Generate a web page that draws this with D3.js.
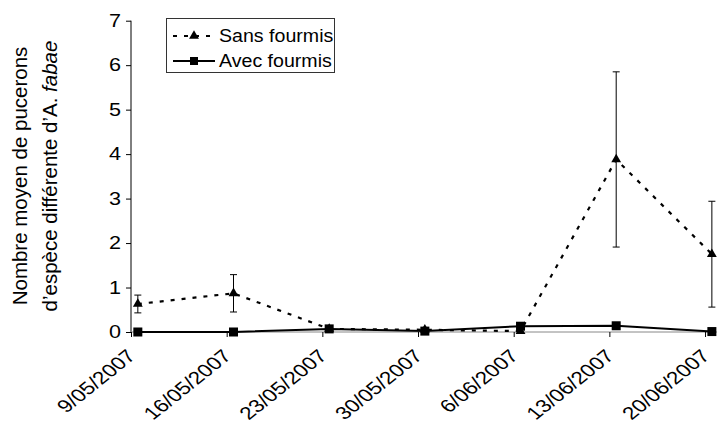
<!DOCTYPE html>
<html>
<head>
<meta charset="utf-8">
<script src="https://cdn.jsdelivr.net/npm/d3@7"></script>
<style>
  body { margin: 0; background: #fff; }
  text { font-family: "Liberation Sans", Arial, sans-serif; fill: #000; }
</style>
</head>
<body>
<svg id="chart" width="717" height="425"></svg>
<script>
// sampling dates (weekly)
var dates = ["2007-05-09", "2007-05-16", "2007-05-23", "2007-05-30", "2007-06-06", "2007-06-13", "2007-06-20"];
// Sans fourmis: mean and error
var sansMean = [0.63, 0.87, 0.07, 0.05, 0.02, 3.88, 1.75];
var sansErr  = [0.20, 0.42, 0.00, 0.00, 0.00, 1.97, 1.19];
// Avec fourmis: mean and error
var avecMean = [0.00, 0.00, 0.07, 0.02, 0.13, 0.14, 0.01];
var avecErr  = [0.00, 0.00, 0.00, 0.00, 0.00, 0.00, 0.00];
var yTicks = [0, 1, 2, 3, 4, 5, 6, 7];

var svg = d3.select('#chart');
var parse = d3.utcParse('%Y-%m-%d');
var day = 24 * 3600 * 1000;
// the original picture is a bit stretched sideways
var sx = 1.2;

var x = d3.scaleUtc()
  .domain([parse('2007-05-09'), parse('2007-06-21')])
  .range([131, 718.7]);
var y = d3.scaleLinear().domain([0, 7]).range([332, 20.7]);

// points sit in the middle of their day (Excel date axis)
function px(i) { return x(new Date(parse(dates[i]).getTime() + day / 2)); }

// y axis
var yAxis = svg.append('g')
  .attr('transform', 'translate(131,0)')
  .call(d3.axisLeft(y).tickValues(yTicks).tickSize(5).tickFormat(d3.format('d')));
yAxis.select('.domain').attr('stroke', '#000').attr('d', 'M0,' + y(7) + 'V' + y(0));
yAxis.selectAll('.tick line').attr('stroke', '#000');
yAxis.selectAll('text')
  .style('font-size', '18px')
  .attr('x', 0)
  .attr('transform', 'translate(-10,0) scale(' + sx + ',1)');

// x axis
var xTicks = dates.map(function(d) { return parse(d); });
var xAxis = svg.append('g')
  .attr('transform', 'translate(0,332)')
  .call(d3.axisBottom(x).tickValues(xTicks).tickSize(5).tickFormat(d3.utcFormat('%-d/%m/%Y')));
xAxis.select('.domain').attr('stroke', '#888').attr('d', 'M131,0H718.7');
xAxis.selectAll('.tick line').attr('stroke', '#000');
xAxis.selectAll('text')
  .style('font-size', '18px')
  .attr('text-anchor', 'end')
  .attr('x', 0).attr('y', 0)
  .attr('dy', '0.72em')
  .attr('transform', 'translate(-6,16) scale(1.25,1) rotate(-45)');

// y axis title
var title = svg.append('text')
  .attr('transform', 'translate(0,176) rotate(-90)')
  .attr('text-anchor', 'middle')
  .style('font-size', '20.5px');
title.append('tspan').attr('x', 0).attr('y', 27).text('Nombre moyen de pucerons');
var t2 = title.append('tspan').attr('x', 0).attr('y', 57);
t2.append('tspan').text('d\u2019esp\u00e8ce diff\u00e9rente d\u2019A. ');
t2.append('tspan').style('font-style', 'italic').text('fabae');

// lines
var idx = d3.range(dates.length);
var lineAvec = d3.line().x(function(i) { return px(i); }).y(function(i) { return y(avecMean[i]); });
var lineSans = d3.line().x(function(i) { return px(i); }).y(function(i) { return y(sansMean[i]); });

svg.append('path').datum(idx)
  .attr('d', lineAvec).attr('fill', 'none').attr('stroke', '#000').attr('stroke-width', 2);
svg.append('path').datum(idx)
  .attr('d', lineSans).attr('fill', 'none').attr('stroke', '#000')
  .attr('stroke-width', 2.2).attr('stroke-dasharray', '4,7');

// error bars
function errBars(mean, err) {
  var g = svg.append('g').attr('stroke', '#000').attr('stroke-width', 1);
  idx.forEach(function(i) {
    if (err[i] <= 0) return;
    var cx = px(i);
    var y0 = y(mean[i] - err[i]), y1 = y(mean[i] + err[i]);
    g.append('line').attr('x1', cx).attr('x2', cx).attr('y1', y0).attr('y2', y1);
    g.append('line').attr('x1', cx - 3.5).attr('x2', cx + 3.5).attr('y1', y0).attr('y2', y0);
    g.append('line').attr('x1', cx - 3.5).attr('x2', cx + 3.5).attr('y1', y1).attr('y2', y1);
  });
}
errBars(sansMean, sansErr);
errBars(avecMean, avecErr);

// markers
var tri = d3.symbol().type(d3.symbolTriangle).size(42);
svg.append('g').selectAll('path').data(idx).enter().append('path')
  .attr('d', tri)
  .attr('transform', function(i) { return 'translate(' + px(i) + ',' + y(sansMean[i]) + ')'; })
  .attr('fill', '#000');
svg.append('g').selectAll('rect').data(idx).enter().append('rect')
  .attr('x', function(i) { return px(i) - 4.5; })
  .attr('y', function(i) { return y(avecMean[i]) - 4.5; })
  .attr('width', 9).attr('height', 9)
  .attr('fill', '#000');

// legend
var leg = svg.append('g');
leg.append('rect').attr('x', 166.5).attr('y', 18.5).attr('width', 168).attr('height', 54)
  .attr('fill', '#fff').attr('stroke', '#333').attr('stroke-width', 1);
leg.append('line').attr('x1', 173).attr('x2', 215).attr('y1', 36).attr('y2', 36)
  .attr('stroke', '#000').attr('stroke-width', 2).attr('stroke-dasharray', '4,7');
leg.append('path').attr('d', tri).attr('transform', 'translate(194,36)').attr('fill', '#000');
leg.append('line').attr('x1', 173).attr('x2', 215).attr('y1', 61).attr('y2', 61)
  .attr('stroke', '#000').attr('stroke-width', 2);
leg.append('rect').attr('x', 190).attr('y', 57).attr('width', 8).attr('height', 8).attr('fill', '#000');
var legNames = ['Sans fourmis', 'Avec fourmis'];
leg.selectAll('text.lab').data(legNames).enter().append('text')
  .attr('class', 'lab')
  .attr('dy', '0.35em')
  .style('font-size', '17.5px')
  .attr('transform', function(d, i) { return 'translate(219,' + (36 + i * 25) + ') scale(1.12,1)'; })
  .text(function(d) { return d; });
</script>
</body>
</html>
